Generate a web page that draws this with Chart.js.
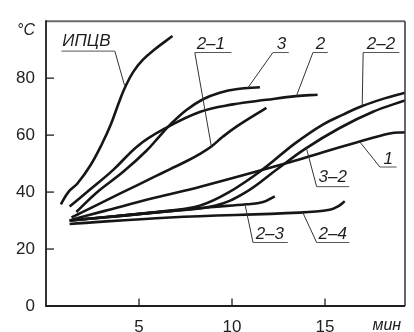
<!DOCTYPE html>
<html><head><meta charset="utf-8">
<script src="https://cdn.jsdelivr.net/npm/chart.js@4"></script>
<style>html,body{margin:0;padding:0;background:#fff}#wrap{width:414px;height:332px}</style>
</head><body><div id="wrap"><canvas id="c" width="414" height="332"></canvas></div>
<script>
// ---- data (time, min / temperature, °C) ----
const xTicks = [5, 10, 15];
const yTicks = [0, 20, 40, 60, 80];

const ipcvX = [0.8, 1.2, 1.7, 2.4, 3.0, 3.5, 3.95, 4.3, 4.7, 5.2, 5.8, 6.8];
const ipcvY = [35.7, 40.0, 43.1, 49.5, 56.8, 64.0, 72.0, 77.5, 82.3, 86.4, 89.9, 94.8];

const s2X = [1.27, 2.35, 3.6, 4.95, 6.3, 8.3, 10.05, 11.85, 13.45, 14.6];
const s2Y = [34.9, 40.8, 47.7, 56.3, 62.0, 68.2, 70.8, 72.4, 73.7, 74.2];

const s3X = [1.63, 2.7, 4.15, 5.4, 6.1, 6.65, 7.55, 8.44, 9.34, 10.3, 11.5];
const s3Y = [33.0, 39.7, 47.1, 54.5, 59.6, 63.5, 68.8, 72.6, 74.9, 76.2, 76.8];

const s21X = [1.37, 2.26, 4.05, 5.84, 6.65, 7.6, 8.35, 8.89, 9.5, 10.24, 11.85];
const s21Y = [31.1, 33.9, 39.7, 45.4, 48.0, 51.0, 53.7, 56.0, 59.4, 63.0, 69.6];

const s1X = [1.37, 3.16, 5.84, 8.35, 13.1, 14.89, 16.69, 18.48, 19.3];
const s1Y = [30.3, 33.4, 38.0, 42.0, 50.5, 54.0, 57.4, 60.6, 61.0];

const s22X = [1.27, 6.65, 8.26, 9.77, 11.6, 13.37, 14.88, 16.0, 17.0, 18.2, 19.3];
const s22Y = [30.0, 33.5, 35.2, 39.7, 47.7, 57.0, 63.7, 67.3, 70.2, 72.9, 74.9];

const s32X = [1.27, 6.65, 9.07, 10.68, 12.46, 13.91, 15.79, 17.58, 19.3];
const s32Y = [30.0, 33.3, 35.2, 39.7, 48.2, 55.1, 62.5, 68.2, 72.2];

const s23X = [1.27, 6.65, 8.8, 10.77, 11.67, 12.3];
const s23Y = [30.0, 33.3, 34.7, 35.7, 36.5, 38.5];

const s24X = [1.27, 6.65, 13.64, 15.25, 15.7, 16.06];
const s24Y = [28.8, 31.1, 32.8, 33.8, 35.0, 36.8];

const seriesNames = ['ИПЦВ', '2', '3', '2–1', '1', '2–2', '3–2', '2–3', '2–4'];
const seriesXs = [ipcvX, s2X, s3X, s21X, s1X, s22X, s32X, s23X, s24X];
const seriesYs = [ipcvY, s2Y, s3Y, s21Y, s1Y, s22Y, s32Y, s23Y, s24Y];

// ---- curve labels (data coordinates): text pos, underline, leader end ----
const labels = [
  {t:'ИПЦВ', tx:0.88, ty:91.2, u1:0.83, u2:3.70, uy:89.5, side:'r', lx:4.22, ly:77.5},
  {t:'2–1',  tx:8.10, ty:90.4, u1:8.00, u2:9.97, uy:89.0, side:'l', lx:8.89, ly:56.0},
  {t:'3',    tx:12.40,ty:90.4, u1:12.20,u2:13.05,uy:89.0, side:'l', lx:10.84,ly:76.5},
  {t:'2',    tx:14.50,ty:90.4, u1:14.35,u2:15.15,uy:89.0, side:'l', lx:13.46,ly:73.7},
  {t:'2–2',  tx:17.25,ty:90.4, u1:17.05,u2:19.00,uy:89.0, side:'l', lx:17.00,ly:70.3},
  {t:'1',    tx:18.15,ty:49.9, u1:17.95,u2:18.85,uy:48.8, side:'l', lx:16.86,ly:57.7},
  {t:'3–2',  tx:14.65,ty:43.4, u1:14.55,u2:16.30,uy:41.9, side:'l', lx:14.00,ly:55.4},
  {t:'2–3',  tx:11.27,ty:23.5, u1:11.13,u2:13.00,uy:22.3, side:'l', lx:10.70,ly:35.6},
  {t:'2–4',  tx:14.65,ty:23.5, u1:14.55,u2:16.30,uy:22.3, side:'l', lx:13.80,ly:32.9}
];

const FONT = "'Liberation Sans', Arial, sans-serif";

const framePlugin = {
  id: 'frame',
  afterDraw(chart) {
    const ctx = chart.ctx;
    const a = chart.chartArea;
    const xs = chart.scales.x, ys = chart.scales.y;
    ctx.save();
    ctx.lineCap = 'butt';
    ctx.strokeStyle = '#6a6a6a'; ctx.lineWidth = 2;
    ctx.beginPath(); ctx.moveTo(a.left, a.top); ctx.lineTo(a.right, a.top); ctx.stroke();
    ctx.strokeStyle = '#333'; ctx.lineWidth = 1.5;
    ctx.beginPath(); ctx.moveTo(a.right, a.top); ctx.lineTo(a.right, a.bottom); ctx.stroke();
    ctx.strokeStyle = '#1e1e1e'; ctx.lineWidth = 1.8;
    ctx.beginPath(); ctx.moveTo(a.left, a.top - 1); ctx.lineTo(a.left, a.bottom); ctx.lineTo(a.right, a.bottom); ctx.stroke();
    ctx.lineWidth = 1.3;
    xTicks.forEach(v => { const p = xs.getPixelForValue(v);
      ctx.beginPath(); ctx.moveTo(p, a.bottom); ctx.lineTo(p, a.bottom - 7.5); ctx.stroke(); });
    yTicks.forEach(v => { if (v === 0) return; const p = ys.getPixelForValue(v);
      ctx.beginPath(); ctx.moveTo(a.left, p); ctx.lineTo(a.left + 8, p); ctx.stroke(); });
    ctx.fillStyle = '#222';
    ctx.font = 'italic 16px ' + FONT;
    ctx.textBaseline = 'alphabetic';
    ctx.textAlign = 'left';
    ctx.fillText('°C', a.left - 29, a.top + 14);
    ctx.fillText('мин', xs.getPixelForValue(17.55), chart.height - 2);
    ctx.font = 'italic 17px ' + FONT;
    labels.forEach(L => {
      const tx = xs.getPixelForValue(L.tx), ty = ys.getPixelForValue(L.ty);
      const u1 = xs.getPixelForValue(L.u1), u2 = xs.getPixelForValue(L.u2), uy = ys.getPixelForValue(L.uy);
      const lx = xs.getPixelForValue(L.lx), ly = ys.getPixelForValue(L.ly);
      ctx.fillStyle = '#1e1e1e';
      ctx.fillText(L.t, tx, ty);
      ctx.strokeStyle = '#555'; ctx.lineWidth = 1;
      ctx.beginPath(); ctx.moveTo(u1, uy); ctx.lineTo(u2, uy); ctx.stroke();
      ctx.strokeStyle = '#333';
      const sx = L.side === 'r' ? u2 : u1;
      ctx.beginPath(); ctx.moveTo(sx, uy); ctx.lineTo(lx, ly); ctx.stroke();
    });
    ctx.restore();
  }
};

new Chart(document.getElementById('c'), {
  type: 'line',
  data: {
    datasets: seriesNames.map((n, i) => ({
      label: n,
      data: seriesXs[i].map((x, j) => ({x: x, y: seriesYs[i][j]})),
      borderColor: '#161616',
      borderWidth: 2.6,
      pointRadius: 0,
      tension: 0.4,
      fill: false
    }))
  },
  options: {
    responsive: false,
    animation: false,
    layout: {padding: {top: 14, right: 9, left: 0, bottom: 0}},
    plugins: {legend: {display: false}, tooltip: {enabled: false}},
    scales: {
      x: {
        type: 'linear', min: 0, max: 19.3,
        afterBuildTicks: s => { s.ticks = xTicks.map(v => ({value: v})); },
        afterFit: s => { s.height = 26; },
        grid: {display: false, drawTicks: false},
        border: {display: false},
        ticks: {padding: 11, maxRotation: 0, color: '#222', font: {family: FONT, size: 17}}
      },
      y: {
        min: 0, max: 100,
        afterBuildTicks: s => { s.ticks = yTicks.map(v => ({value: v})); },
        afterFit: s => { s.width = 46; },
        grid: {display: false, drawTicks: false},
        border: {display: false},
        ticks: {padding: 11, color: '#222', font: {family: FONT, size: 17}}
      }
    }
  },
  plugins: [framePlugin]
});
</script>
</body></html>
